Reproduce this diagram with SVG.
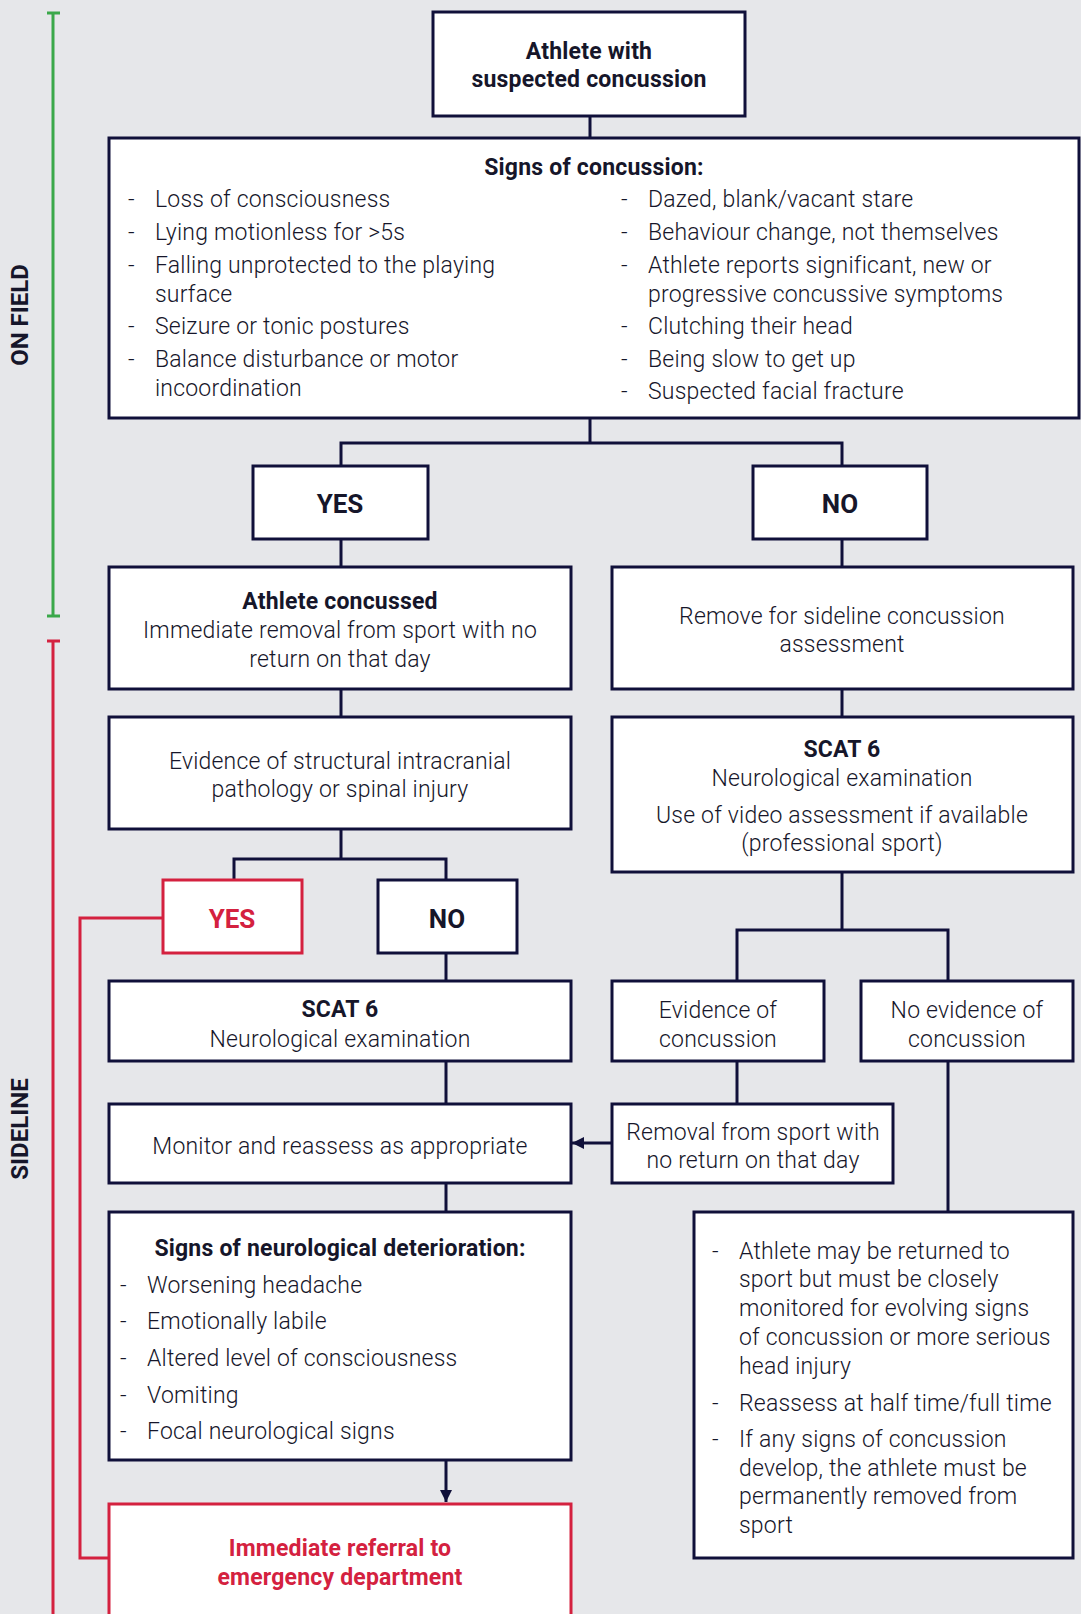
<svg xmlns="http://www.w3.org/2000/svg" width="1081" height="1614" viewBox="0 0 1081 1614">
<defs>
<style>
.bg{fill:#e6e7ea}
.box{fill:#ffffff;stroke:#10103a;stroke-width:3}
.rbox{fill:#ffffff;stroke:#d4213f;stroke-width:3}
.con{fill:none;stroke:#10103a;stroke-width:3}
.rcon{fill:none;stroke:#d4213f;stroke-width:3}
.t{font-family:Roboto,"Liberation Sans",sans-serif;font-weight:300;font-size:23px;letter-spacing:0.2px;fill:#16162a}
.b{font-family:Roboto,"Liberation Sans",sans-serif;font-weight:700;font-size:23px;letter-spacing:0.2px;fill:#16162a}
.big{font-family:Roboto,"Liberation Sans",sans-serif;font-weight:700;font-size:26px;fill:#16162a}
.red{fill:#d4213f}
.side{font-family:Roboto,"Liberation Sans",sans-serif;font-weight:700;font-size:24px;fill:#16162a}
.c{text-anchor:middle}
</style>
<marker id="arr" viewBox="0 0 10 10" refX="10" refY="5" markerWidth="12" markerHeight="14" markerUnits="userSpaceOnUse" orient="auto">
<path d="M0,0 L10,5 L0,10 z" fill="#10103a"/>
</marker>
</defs>
<rect class="bg" x="0" y="0" width="1081" height="1614"/>

<g id="phase-bars">
<path d="M53,13 V616 M47,13 H60 M47,616 H60" fill="none" stroke="#3aa84a" stroke-width="3"/>
<path d="M53,641 V1614 M47,641 H60" fill="none" stroke="#d4213f" stroke-width="3"/>
<text class="side c" transform="translate(28,315) rotate(-90)">ON FIELD</text>
<text class="side c" transform="translate(28,1129) rotate(-90)">SIDELINE</text>
</g>

<g id="connectors">
<path class="con" d="M590,116 V138"/>
<path class="con" d="M590,418 V443 M341,466 V443 H842 V466"/>
<path class="con" d="M341,539 V567 M341,689 V717"/>
<path class="con" d="M842,539 V567 M842,689 V717"/>
<path class="con" d="M341,829 V859 M234,880 V859 H446 V880"/>
<path class="con" d="M446,953 V981 M446,1061 V1104 M446,1183 V1212"/>
<path class="con" d="M842,872 V930 M737,981 V930 H948 V981"/>
<path class="con" d="M737,1061 V1104"/>
<path class="con" d="M948,1061 V1212"/>
<path class="con" d="M612,1143 H572" marker-end="url(#arr)"/>
<path class="con" d="M446,1460 V1502" marker-end="url(#arr)"/>
<path class="rcon" d="M163,918 H80 V1558 H109"/>
</g>

<g id="start">
<rect class="box" x="433" y="12" width="312" height="104"/>
<text class="b c" x="589" y="59">Athlete with</text>
<text class="b c" x="589" y="87">suspected concussion</text>
</g>

<g id="signs">
<rect class="box" x="109" y="138" width="970" height="280"/>
<text class="b c" x="594" y="175">Signs of concussion:</text>
<g class="t">
<text x="128" y="207">-</text><text x="155" y="207">Loss of consciousness</text>
<text x="128" y="240">-</text><text x="155" y="240">Lying motionless for &gt;5s</text>
<text x="128" y="273">-</text><text x="155" y="273">Falling unprotected to the playing</text>
<text x="155" y="302">surface</text>
<text x="128" y="334">-</text><text x="155" y="334">Seizure or tonic postures</text>
<text x="128" y="367">-</text><text x="155" y="367">Balance disturbance or motor</text>
<text x="155" y="396">incoordination</text>
<text x="621" y="207">-</text><text x="648" y="207">Dazed, blank/vacant stare</text>
<text x="621" y="240">-</text><text x="648" y="240">Behaviour change, not themselves</text>
<text x="621" y="273">-</text><text x="648" y="273">Athlete reports significant, new or</text>
<text x="648" y="302">progressive concussive symptoms</text>
<text x="621" y="334">-</text><text x="648" y="334">Clutching their head</text>
<text x="621" y="367">-</text><text x="648" y="367">Being slow to get up</text>
<text x="621" y="399">-</text><text x="648" y="399">Suspected facial fracture</text>
</g>
</g>

<g id="yes1">
<rect class="box" x="253" y="466" width="175" height="73"/>
<text class="big c" x="340" y="513">YES</text>
</g>
<g id="no1">
<rect class="box" x="753" y="466" width="174" height="73"/>
<text class="big c" x="840" y="513">NO</text>
</g>

<g id="concussed">
<rect class="box" x="109" y="567" width="462" height="122"/>
<text class="b c" x="340" y="609">Athlete concussed</text>
<text class="t c" x="340" y="638">Immediate removal from sport with no</text>
<text class="t c" x="340" y="667">return on that day</text>
</g>

<g id="remove-sideline">
<rect class="box" x="612" y="567" width="461" height="122"/>
<text class="t c" x="842" y="624">Remove for sideline concussion</text>
<text class="t c" x="842" y="652">assessment</text>
</g>

<g id="structural">
<rect class="box" x="109" y="717" width="462" height="112"/>
<text class="t c" x="340" y="769">Evidence of structural intracranial</text>
<text class="t c" x="340" y="797">pathology or spinal injury</text>
</g>

<g id="scat6-right">
<rect class="box" x="612" y="717" width="461" height="155"/>
<text class="b c" x="842" y="757">SCAT 6</text>
<text class="t c" x="842" y="786">Neurological examination</text>
<text class="t c" x="842" y="823">Use of video assessment if available</text>
<text class="t c" x="842" y="851">(professional sport)</text>
</g>

<g id="yes2">
<rect class="rbox" x="163" y="880" width="139" height="73"/>
<text class="big c red" x="232" y="928">YES</text>
</g>
<g id="no2">
<rect class="box" x="378" y="880" width="139" height="73"/>
<text class="big c" x="447" y="928">NO</text>
</g>

<g id="scat6-left">
<rect class="box" x="109" y="981" width="462" height="80"/>
<text class="b c" x="340" y="1017">SCAT 6</text>
<text class="t c" x="340" y="1047">Neurological examination</text>
</g>

<g id="evidence">
<rect class="box" x="612" y="981" width="212" height="80"/>
<text class="t c" x="718" y="1018">Evidence of</text>
<text class="t c" x="718" y="1047">concussion</text>
</g>

<g id="no-evidence">
<rect class="box" x="861" y="981" width="212" height="80"/>
<text class="t c" x="967" y="1018">No evidence of</text>
<text class="t c" x="967" y="1047">concussion</text>
</g>

<g id="monitor">
<rect class="box" x="109" y="1104" width="462" height="79"/>
<text class="t c" x="340" y="1154">Monitor and reassess as appropriate</text>
</g>

<g id="removal">
<rect class="box" x="612" y="1104" width="281" height="79"/>
<text class="t c" x="753" y="1140">Removal from sport with</text>
<text class="t c" x="753" y="1168">no return on that day</text>
</g>

<g id="deterioration">
<rect class="box" x="109" y="1212" width="462" height="248"/>
<text class="b c" x="340" y="1256">Signs of neurological deterioration:</text>
<g class="t">
<text x="120" y="1293">-</text><text x="147" y="1293">Worsening headache</text>
<text x="120" y="1329">-</text><text x="147" y="1329">Emotionally labile</text>
<text x="120" y="1366">-</text><text x="147" y="1366">Altered level of consciousness</text>
<text x="120" y="1403">-</text><text x="147" y="1403">Vomiting</text>
<text x="120" y="1439">-</text><text x="147" y="1439">Focal neurological signs</text>
</g>
</g>

<g id="return-box">
<rect class="box" x="694" y="1212" width="379" height="346"/>
<g class="t">
<text x="712" y="1259">-</text><text x="739" y="1259">Athlete may be returned to</text>
<text x="739" y="1287">sport but must be closely</text>
<text x="739" y="1316">monitored for evolving signs</text>
<text x="739" y="1345">of concussion or more serious</text>
<text x="739" y="1374">head injury</text>
<text x="712" y="1411">-</text><text x="739" y="1411">Reassess at half time/full time</text>
<text x="712" y="1447">-</text><text x="739" y="1447">If any signs of concussion</text>
<text x="739" y="1476">develop, the athlete must be</text>
<text x="739" y="1504">permanently removed from</text>
<text x="739" y="1533">sport</text>
</g>
</g>

<g id="emergency">
<rect class="rbox" x="109" y="1504" width="462" height="130"/>
<text class="b c red" x="340" y="1556">Immediate referral to</text>
<text class="b c red" x="340" y="1585">emergency department</text>
</g>
</svg>
